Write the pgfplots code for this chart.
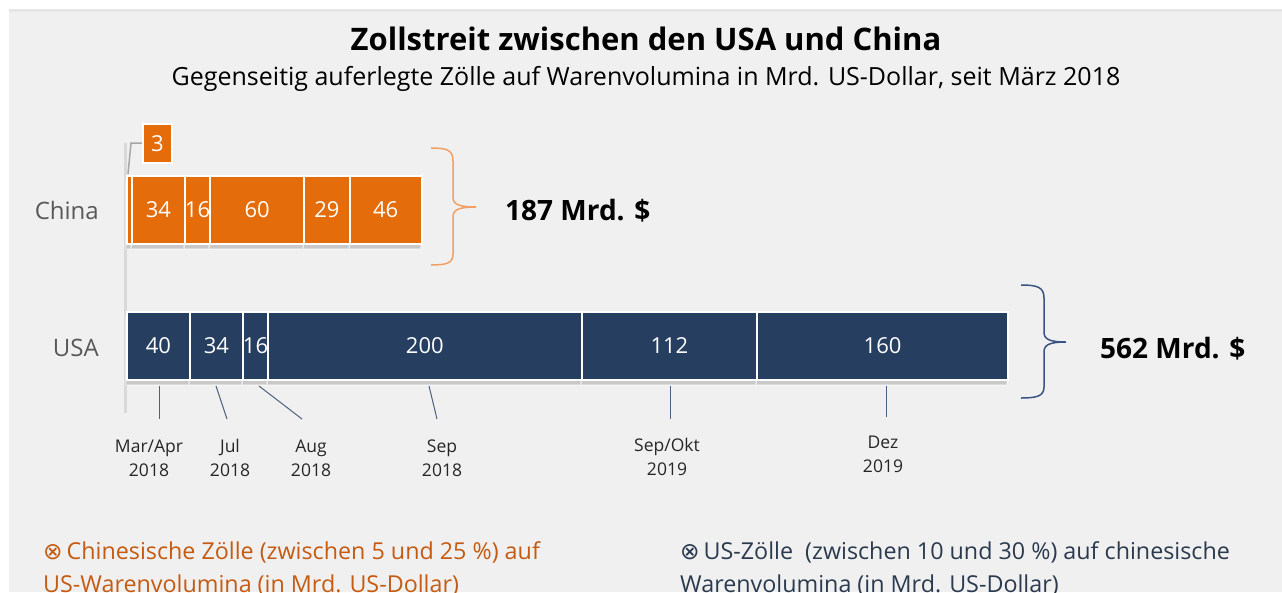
\documentclass[border=0pt]{standalone}
\usepackage{pgfplots}
\pgfplotsset{compat=1.18}
\usetikzlibrary{shadows}
\usepackage{fontspec}
\setmainfont{Open Sans}
\newfontfamily\symfont{DejaVu Sans}

\definecolor{bg}{HTML}{F0F0F0}
\definecolor{cnorange}{HTML}{E46C0A}
\definecolor{usnavy}{HTML}{263F61}
\definecolor{braceorange}{HTML}{F0A066}
\definecolor{bracenavy}{HTML}{3A5482}
\definecolor{tickline}{HTML}{4E6080}
\definecolor{legorange}{HTML}{C55A11}
\definecolor{legnavy}{HTML}{2B3A4E}

\newcommand\fs[1]{\fontsize{#1}{#1}\selectfont}
% two-line date label under the USA bar
\newcommand\datelabel[4]{%
  \node[anchor=base, font=\fs{17.5}, text=black!85] at (#1pt,-#2pt) {#3};
  \node[anchor=base, font=\fs{17.5}, text=black!85] at (#1pt,-#2pt-24pt) {#4};}

\pgfplotsset{
  tollbar/.style={
    scale only axis, width=881pt, height=408pt,
    at={(127pt,-482pt)}, anchor=south west,
    xmin=0, xmax=562, ymin=-1, ymax=2,
    axis lines=none, clip=false,
    xbar stacked, bar width=68pt,
    point meta=explicit symbolic,
    every node near coord/.style={anchor=center, text=white, font=\fs{22}},
  },
  seg/.style={fill=#1, draw=white, line width=2pt,
    drop shadow={opacity=0.35, shadow xshift=-1pt, shadow yshift=-5pt}},
}

\begin{document}
\begin{tikzpicture}[x=1pt,y=1pt]
\useasboundingbox (0,0) rectangle (1282,-592);
\clip (0,0) rectangle (1282,-592);
\fill[white] (0,0) rectangle (1282,-592);
\fill[bg] (9,-9) rectangle (1282,-592);
\fill[black!10] (9,-9) rectangle (1282,-12);

% titles
\node[anchor=base, font=\fs{31}\bfseries] at (646,-50) {Zollstreit zwischen den USA und China};
\node[anchor=base, font=\fs{25}] at (646,-85) {Gegenseitig auferlegte Zölle auf Warenvolumina in Mrd. US-Dollar, seit März 2018};

% baseline rule
\draw[black!15, line width=2.5pt] (125.5,-143) -- (125.5,-413);

% China
\begin{axis}[tollbar]
\addplot[seg=cnorange] coordinates {(3,1) [3]};
\addplot[seg=cnorange, nodes near coords] coordinates {(34,1) [34]};
\addplot[seg=cnorange, nodes near coords] coordinates {(16,1) [16]};
\addplot[seg=cnorange, nodes near coords] coordinates {(60,1) [60]};
\addplot[seg=cnorange, nodes near coords] coordinates {(29,1) [29]};
\addplot[seg=cnorange, nodes near coords] coordinates {(46,1) [46]};
\end{axis}

% USA
\begin{axis}[tollbar]
\addplot[seg=usnavy, nodes near coords] coordinates {(40,0) [40]};
\addplot[seg=usnavy, nodes near coords] coordinates {(34,0) [34]};
\addplot[seg=usnavy, nodes near coords] coordinates {(16,0) [16]};
\addplot[seg=usnavy, nodes near coords] coordinates {(200,0) [200]};
\addplot[seg=usnavy, nodes near coords] coordinates {(112,0) [112]};
\addplot[seg=usnavy, nodes near coords] coordinates {(160,0) [160]};
\end{axis}

\begin{scope}[every node/.append style={inner sep=0pt}]
% category names
\node[anchor=base east, font=\fs{24}, text=black!65] at (99,-219) {China};
\node[anchor=base east, font=\fs{24}, text=black!65] at (99,-356) {USA};

% the small 3 segment
\draw[black!35, line width=1.5pt] (143,-143) -- (131,-143) -- (128,-174);
\node[fill=cnorange, draw=white, line width=1.5pt, minimum width=29pt, minimum height=39pt,
  text=white, font=\fs{22}] at (157.5,-143.5) {3};

% braces and totals
\draw[braceorange, line width=1.5pt] (431,-148) .. controls (447,-148) and (453,-150) .. (453,-161)
  -- (453,-197) .. controls (453,-204) and (458,-207) .. (476,-207)
  .. controls (458,-207) and (453,-210) .. (453,-217) -- (453,-254)
  .. controls (453,-263) and (447,-265) .. (431,-265);
\node[anchor=base west, font=\fs{28}\bfseries] at (505,-220) {187 Mrd. \$};
\draw[bracenavy, line width=1.5pt] (1021,-285) .. controls (1037,-285) and (1044,-287) .. (1044,-298)
  -- (1044,-332) .. controls (1044,-339) and (1049,-342) .. (1066,-342)
  .. controls (1049,-342) and (1044,-345) .. (1044,-352) -- (1044,-387)
  .. controls (1044,-396) and (1037,-398) .. (1021,-398);
\node[anchor=base west, font=\fs{28}\bfseries] at (1100,-358) {562 Mrd. \$};

% date leaders
\begin{scope}[tickline, line width=1pt]
\draw (159,-386) -- (159,-419);
\draw (216,-386) -- (227,-419);
\draw (259,-386) -- (302,-419);
\draw (429,-386) -- (437,-419);
\draw (670,-386) -- (670,-419);
\draw (886,-386) -- (886,-417);
\end{scope}
\datelabel{149}{452}{Mar/Apr}{2018}
\datelabel{230}{452}{Jul}{2018}
\datelabel{311}{452}{Aug}{2018}
\datelabel{442}{452}{Sep}{2018}
\datelabel{667}{451}{Sep/Okt}{2019}
\datelabel{883}{448}{Dez}{2019}

% legend texts
\node[anchor=base west, font=\fs{23.3}, text=legorange] at (43,-559) {{\symfont ⊗}\,Chinesische Zölle (zwischen 5 und 25 \%) auf};
\node[anchor=base west, font=\fs{23.3}, text=legorange] at (43,-592) {US-Warenvolumina (in Mrd. US-Dollar)};
\node[anchor=base west, font=\fs{23.3}, text=legnavy] at (680,-559) {{\symfont ⊗}\,US-Zölle\ \ (zwischen 10 und 30 \%) auf chinesische};
\node[anchor=base west, font=\fs{23.3}, text=legnavy] at (680,-592) {Warenvolumina (in Mrd. US-Dollar)};
\end{scope}
\end{tikzpicture}
\end{document}
